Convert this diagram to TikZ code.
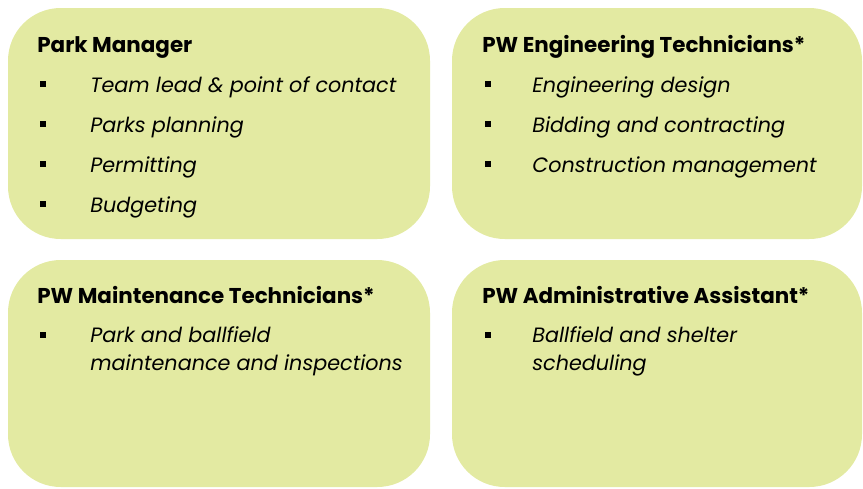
\documentclass[tikz,border=0pt]{standalone}
\usepackage{fontspec}
\setmainfont{Poppins}
\definecolor{boxgreen}{HTML}{E3EAA2}
\tikzset{
  rolebox/.style={fill=boxgreen, rounded corners=30},
  roletitle/.style={anchor=base west, inner sep=0pt, font=\fontsize{12.2}{14}\selectfont\bfseries},
  roleitem/.style={anchor=base west, inner sep=0pt, align=left, font=\fontsize{11.8}{15.5}\selectfont\itshape},
  bullet/.style={fill=black, inner sep=0pt, minimum size=3.6pt}
}
\begin{document}
\begin{tikzpicture}[x=0.02cm, y=-0.02cm]
  \useasboundingbox (0,0) rectangle (863,488);

  % boxes
  \fill[rolebox] (8,8) rectangle (430,239);  % park manager
  \fill[rolebox] (452,8) rectangle (862,239);  % engineering
  \fill[rolebox] (8,260) rectangle (430,487);  % maintenance
  \fill[rolebox] (452,260) rectangle (862,487);  % admin

  % park manager
  \node[roletitle] (pm) at (37,52) {Park Manager};
  \node[roleitem] (pm1) at (90,92) {Team lead \& point of contact};
  \node[roleitem] (pm2) at (90,132) {Parks planning};
  \node[roleitem] (pm3) at (90,172) {Permitting};
  \node[roleitem] (pm4) at (90,212) {Budgeting};
  \foreach \i in {1,...,4}
    \node[bullet] at (43,92-40+40*\i-8) {};

  % engineering technicians
  \node[roletitle] (et) at (482,52) {PW Engineering Technicians*};
  \node[roleitem] (et1) at (532,92) {Engineering design};
  \node[roleitem] (et2) at (532,132) {Bidding and contracting};
  \node[roleitem] (et3) at (532,172) {Construction management};
  \foreach \i in {1,...,3}
    \node[bullet] at (488,92-40+40*\i-8) {};

  % maintenance technicians
  \node[roletitle] (mt) at (37,303) {PW Maintenance Technicians*};
  \node[roleitem] (mt1) at (90,370) {Park and ballfield\\maintenance and inspections};
  \node[bullet] at (43,335) {};

  % administrative assistant
  \node[roletitle] (aa) at (482,303) {PW Administrative Assistant*};
  \node[roleitem] (aa1) at (532,370) {Ballfield and shelter\\scheduling};
  \node[bullet] at (488,335) {};
\end{tikzpicture}
\end{document}
